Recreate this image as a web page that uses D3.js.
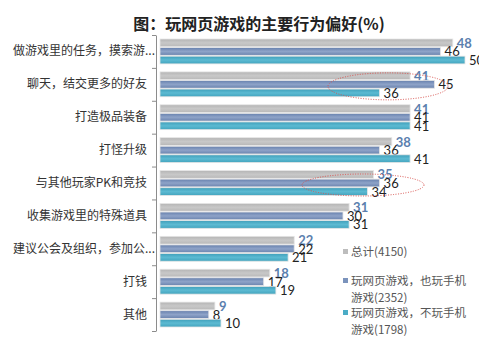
<!DOCTYPE html>
<html><head><meta charset="utf-8">
<script src="https://cdn.jsdelivr.net/npm/d3@7"></script>
<style>body{margin:0;background:#fff}svg{display:block}</style>
</head><body>
<svg id="c" width="479" height="340"></svg>
<script>
const categories = ["做游戏里的任务，摸索游...", "聊天，结交更多的好友", "打造极品装备", "打怪升级", "与其他玩家PK和竞技", "收集游戏里的特殊道具", "建议公会及组织，参加公...", "打钱", "其他"];
const seriesNames = ["总计(4150)", "玩网页游戏，也玩手机游戏(2352)", "玩网页游戏，不玩手机游戏(1798)"];
const totalVals = [48, 41, 41, 38, 35, 31, 22, 18, 9];
const mobileVals = [46, 45, 41, 36, 36, 30, 22, 17, 8];
const noMobileVals = [50, 36, 41, 41, 34, 31, 21, 19, 10];
const title = "图：玩网页游戏的主要行为偏好(%)";

const series = [totalVals, mobileVals, noMobileVals];
const svg = d3.select("#c");
const defs = svg.append("defs");
const grads = [
  ["#b4b4b4", "#c8c8c8", "#b8b8b8"],
  ["#6680ad", "#8ea3c8", "#6a83ae"],
  ["#3f9fba", "#5cbad2", "#43a4be"]
];
grads.forEach((g, i) => {
  const lg = defs.append("linearGradient").attr("id", "g" + i).attr("x1", 0).attr("y1", 0).attr("x2", 0).attr("y2", 1);
  lg.append("stop").attr("offset", "0%").attr("stop-color", g[0]);
  lg.append("stop").attr("offset", "50%").attr("stop-color", g[1]);
  lg.append("stop").attr("offset", "100%").attr("stop-color", g[2]);
});
const legendColors = ["#bdbdbd", "#7b93bc", "#4bacc6"];
const labelColors = ["#5b7fae", "#222", "#222"];

svg.append("text").attr("x", 259).attr("y", 30).attr("text-anchor", "middle")
  .attr("font-family", "'Noto Sans CJK SC', sans-serif").attr("font-weight", "bold")
  .attr("font-size", 16).attr("fill", "#222").text(title);

const y = d3.scaleBand().domain(categories).range([35, 331]);
const ys = d3.scaleBand().domain([0, 1, 2]).range([4, y.bandwidth() - 4]).paddingInner(0.1);
const x = d3.scaleLinear().domain([0, 50]).range([160, 465]);

// axis
const ax = svg.append("g").attr("transform", "translate(156,0)")
  .call(d3.axisLeft(y).tickSize(0).tickFormat(""));
ax.select(".domain").attr("stroke", "#8c8c8c");
const bounds = categories.map(c => y(c)).concat([331]);
svg.selectAll("line.tk").data(bounds).join("line").attr("class", "tk")
  .attr("x1", 152).attr("x2", 156).attr("y1", d => d + 0.5).attr("y2", d => d + 0.5)
  .attr("stroke", "#8c8c8c");

svg.selectAll("text.cat").data(categories).join("text").attr("class", "cat")
  .attr("x", d => d.endsWith("...") ? 155 : 147)
  .attr("y", d => y(d) + y.bandwidth() / 2 + 4)
  .attr("text-anchor", "end")
  .attr("font-family", "'Noto Sans CJK SC', sans-serif").attr("font-size", 12)
  .attr("fill", "#333").text(d => d);

series.forEach((vals, si) => {
  const g = svg.append("g");
  g.selectAll("rect").data(vals).join("rect")
    .attr("x", x(0))
    .attr("y", (d, i) => y(categories[i]) + ys(si))
    .attr("width", d => x(d) - x(0))
    .attr("height", ys.bandwidth())
    .attr("fill", "url(#g" + si + ")")
    .attr("stroke", "#e6e6e6").attr("stroke-width", 0.8);
  g.selectAll("text").data(vals).join("text")
    .attr("x", d => x(d) + 4)
    .attr("y", (d, i) => y(categories[i]) + ys(si) + ys.bandwidth() / 2 + 5)
    .attr("font-family", "Lato, 'Liberation Sans', sans-serif").attr("font-size", 13)
    .attr("font-weight", si === 0 ? "bold" : "normal")
    .attr("fill", labelColors[si]).text(d => d);
});

// annotation ellipses
const ann = [[1, 388, 60, 13.5], [4, 363, 61, 11]];
svg.selectAll("ellipse").data(ann).join("ellipse")
  .attr("cx", d => d[1]).attr("cy", d => y(categories[d[0]]) + y.bandwidth() / 2 + 2)
  .attr("rx", d => d[2]).attr("ry", d => d[3])
  .attr("fill", "none").attr("stroke", "#d9534f").attr("stroke-width", 1)
  .attr("stroke-dasharray", "1,1.5");

// legend
const legendLines = [["总计(4150)"], ["玩网页游戏，也玩手机", "游戏(2352)"], ["玩网页游戏，不玩手机", "游戏(1798)"]];
const legendY = [252, 281, 313];
legendLines.forEach((lines, i) => {
  svg.append("rect").attr("x", 343).attr("y", legendY[i] - 3).attr("width", 5).attr("height", 5)
    .attr("fill", legendColors[i]);
  lines.forEach((t, j) => {
    svg.append("text").attr("x", 351).attr("y", legendY[i] + 4 + j * 16.5)
      .attr("font-family", "'Noto Sans CJK SC', sans-serif").attr("font-size", 11.5)
      .attr("fill", "#555").text(t);
  });
});
</script>
</body></html>
